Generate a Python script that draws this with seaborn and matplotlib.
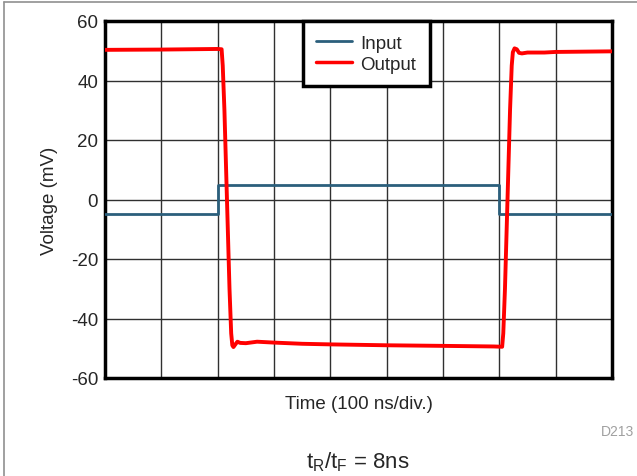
import matplotlib
matplotlib.use("Agg")
import matplotlib.pyplot as plt
import seaborn as sns
import pandas as pd
from matplotlib.lines import Line2D

# ---- data (time in ns, voltage in mV) ----
input_t = [0, 200, 200, 700, 700, 900]
input_v = [-5, -5, 5, 5, -5, -5]

output_t = [0, 100, 200, 207, 209, 212, 215, 218, 221, 224, 226, 228, 231, 235,
            240, 250, 270, 300, 350, 400, 500, 600, 690, 705, 707, 710, 713, 716,
            719, 722, 724, 727, 731, 735, 740, 750, 780, 800, 900]
output_v = [50.3, 50.4, 50.6, 50.5, 45, 30, 10, -10, -30, -45, -49, -49.6, -48.8,
            -47.8, -48.2, -48.3, -47.8, -48.1, -48.5, -48.7, -49.0, -49.2, -49.4,
            -49.5, -45, -30, -10, 10, 30, 45, 49.5, 50.8, 50.5, 49.3, 49.1, 49.4,
            49.4, 49.6, 49.8]

y_ticks = [-60, -40, -20, 0, 20, 40, 60]
x_ticks = [0, 100, 200, 300, 400, 500, 600, 700, 800, 900]

sns.set_theme(style="white")
plt.rcParams["font.family"] = ["Liberation Sans", "DejaVu Sans"]

FS = 13.5
fig = plt.figure(figsize=(6.37, 4.77), dpi=100)
ax = fig.add_axes([105 / 637, 1 - 379 / 477, 507 / 637, 357 / 477])

df_in = pd.DataFrame({"t": input_t, "v": input_v})
df_out = pd.DataFrame({"t": output_t, "v": output_v})
sns.lineplot(data=df_in, x="t", y="v", ax=ax, color="#2B5F7C", lw=2.0,
             sort=False, estimator=None, label="Input", zorder=3)
sns.lineplot(data=df_out, x="t", y="v", ax=ax, color="#FF0000", lw=2.8,
             sort=False, estimator=None, label="Output", zorder=4)

ax.set_xlim(0, 900)
ax.set_ylim(-60, 60)
ax.set_xticks(x_ticks)
ax.set_xticklabels([])
ax.set_yticks(y_ticks)
ax.set_yticklabels([str(v) for v in y_ticks], fontsize=FS)
ax.tick_params(axis="both", length=0, pad=5)
ax.grid(True, color="#303030", lw=1.0)
for s in ax.spines.values():
    s.set_visible(True)
    s.set_color("black")
    s.set_linewidth(2.5)

ax.set_xlabel("Time (100 ns/div.)", fontsize=FS, labelpad=7)
ax.set_ylabel("Voltage (mV)", fontsize=FS, labelpad=9)

handles = [Line2D([], [], color="#2B5F7C", lw=2.0),
           Line2D([], [], color="#FF0000", lw=2.5)]
leg = ax.legend(handles, ["Input", "Output"], loc="upper left",
                bbox_to_anchor=(0.39, 1.0), fontsize=FS, fancybox=False,
                framealpha=1, edgecolor="black", borderaxespad=0,
                handlelength=1.9, handletextpad=0.45, borderpad=0.72,
                labelspacing=0.22)
leg.get_frame().set_linewidth(2.5)
leg.set_zorder(10)

fig.text(358 / 637, 1 - 462 / 477, r"t$_\mathregular{R}$/t$_\mathregular{F}$ = 8ns",
         ha="center", va="center", fontsize=16)
fig.text(634 / 637, 1 - 432 / 477, "D213", ha="right", va="center",
         fontsize=10, color="#A0A0A0")

# outer frame (top and left edges visible)
fig.add_artist(Line2D([4 / 637, 4 / 637], [0, 1 - 3 / 477], color="#909090",
                      lw=1.2, transform=fig.transFigure))
fig.add_artist(Line2D([4 / 637, 1], [1 - 3 / 477, 1 - 3 / 477], color="#909090",
                      lw=1.2, transform=fig.transFigure))

fig.savefig("out.png", dpi=100)
